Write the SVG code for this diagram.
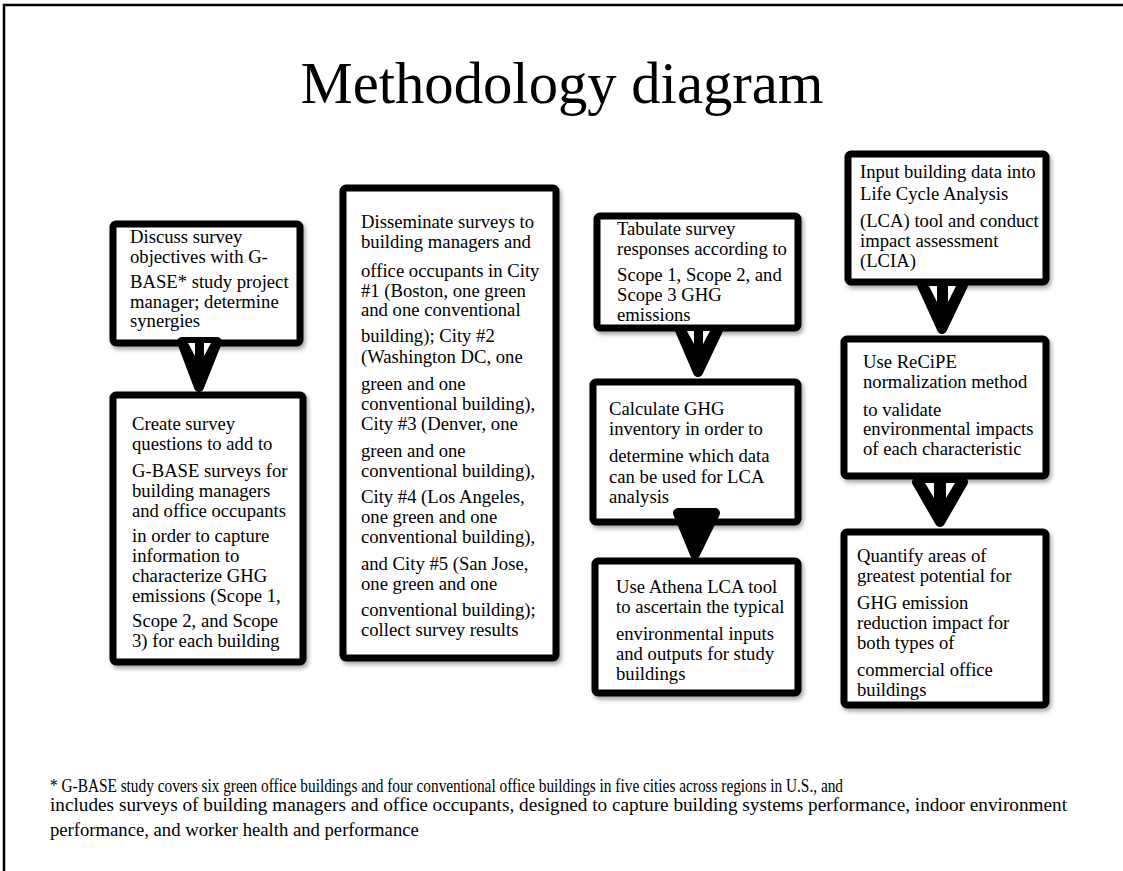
<svg xmlns="http://www.w3.org/2000/svg" width="1123" height="871" viewBox="0 0 1123 871">
<defs>
<style>
.frame{stroke:#000;stroke-width:2.5;fill:none}
.box{fill:#fff;stroke:#000;stroke-width:7;filter:url(#sh)}
.t{font-family:"Liberation Serif","Times New Roman",serif;font-size:18.67px;fill:#000}
.title{font-family:"Liberation Serif","Times New Roman",serif;font-size:58.67px;fill:#000}
.arr{fill:#000;stroke:#000;stroke-width:10;stroke-linejoin:round}
.notch{fill:#fff}
</style>
<filter id="sh" x="-10%" y="-10%" width="130%" height="130%">
<feDropShadow dx="2" dy="3" stdDeviation="2" flood-color="#000" flood-opacity="0.35"/>
</filter>
</defs>
<rect width="1123" height="871" fill="#fff"/>
<path class="frame" d="M1123,5 H4 V871"/>
<text class="title" x="562" y="103" text-anchor="middle">Methodology diagram</text>

<g id="node1">
<rect class="box" x="113" y="224" width="187" height="119" rx="3"/>
<text class="t"><tspan x="130" y="243">Discuss survey</tspan><tspan x="130" y="263">objectives with G-</tspan><tspan x="130" y="288">BASE* study project</tspan><tspan x="130" y="308">manager; determine</tspan><tspan x="130" y="327">synergies</tspan></text>
</g>
<g id="node2">
<rect class="box" x="113" y="395" width="190" height="267" rx="3"/>
<text class="t"><tspan x="132" y="430">Create survey</tspan><tspan x="132" y="450">questions to add to</tspan><tspan x="132" y="477">G-BASE surveys for</tspan><tspan x="132" y="497">building managers</tspan><tspan x="132" y="517">and office occupants</tspan><tspan x="132" y="542">in order to capture</tspan><tspan x="132" y="562">information to</tspan><tspan x="132" y="582">characterize GHG</tspan><tspan x="132" y="602">emissions (Scope 1,</tspan><tspan x="132" y="627">Scope 2, and Scope</tspan><tspan x="132" y="647">3) for each building</tspan></text>
</g>
<g id="node3">
<rect class="box" x="343" y="188" width="213" height="470" rx="3"/>
<text class="t"><tspan x="361" y="228">Disseminate surveys to</tspan><tspan x="361" y="248">building managers and</tspan><tspan x="361" y="277">office occupants in City</tspan><tspan x="361" y="297">#1 (Boston, one green</tspan><tspan x="361" y="316">and one conventional</tspan><tspan x="361" y="342">building); City #2</tspan><tspan x="361" y="363">(Washington DC, one</tspan><tspan x="361" y="390">green and one</tspan><tspan x="361" y="410">conventional building),</tspan><tspan x="361" y="430">City #3 (Denver, one</tspan><tspan x="361" y="457">green and one</tspan><tspan x="361" y="477">conventional building),</tspan><tspan x="361" y="503">City #4 (Los Angeles,</tspan><tspan x="361" y="523">one green and one</tspan><tspan x="361" y="543">conventional building),</tspan><tspan x="361" y="570">and City #5 (San Jose,</tspan><tspan x="361" y="590">one green and one</tspan><tspan x="361" y="616">conventional building);</tspan><tspan x="361" y="636">collect survey results</tspan></text>
</g>
<g id="node4">
<rect class="box" x="597" y="216" width="201" height="112" rx="3"/>
<text class="t"><tspan x="617" y="235">Tabulate survey</tspan><tspan x="617" y="255">responses according to</tspan><tspan x="617" y="281">Scope 1, Scope 2, and</tspan><tspan x="617" y="301">Scope 3 GHG</tspan><tspan x="617" y="321">emissions</tspan></text>
</g>
<g id="node5">
<rect class="box" x="593" y="382" width="205" height="140" rx="3"/>
<text class="t"><tspan x="609" y="415">Calculate GHG</tspan><tspan x="609" y="435">inventory in order to</tspan><tspan x="609" y="462">determine which data</tspan><tspan x="609" y="483">can be used for LCA</tspan><tspan x="609" y="503">analysis</tspan></text>
</g>
<g id="node6">
<rect class="box" x="595" y="561" width="203" height="132" rx="3"/>
<text class="t"><tspan x="616" y="593">Use Athena LCA tool</tspan><tspan x="616" y="613">to ascertain the typical</tspan><tspan x="616" y="640">environmental inputs</tspan><tspan x="616" y="660">and outputs for study</tspan><tspan x="616" y="680">buildings</tspan></text>
</g>
<g id="node7">
<rect class="box" x="848" y="154" width="198" height="128" rx="3"/>
<text class="t"><tspan x="860" y="178">Input building data into</tspan><tspan x="860" y="200">Life Cycle Analysis</tspan><tspan x="860" y="227">(LCA) tool and conduct</tspan><tspan x="860" y="247">impact assessment</tspan><tspan x="860" y="267">(LCIA)</tspan></text>
</g>
<g id="node8">
<rect class="box" x="844" y="339" width="202" height="137" rx="3"/>
<text class="t"><tspan x="863" y="368">Use ReCiPE</tspan><tspan x="863" y="388">normalization method</tspan><tspan x="863" y="416">to validate</tspan><tspan x="863" y="435">environmental impacts</tspan><tspan x="863" y="455">of each characteristic</tspan></text>
</g>
<g id="node9">
<rect class="box" x="844" y="532" width="202" height="173" rx="3"/>
<text class="t"><tspan x="857" y="562">Quantify areas of</tspan><tspan x="857" y="582">greatest potential for</tspan><tspan x="857" y="609">GHG emission</tspan><tspan x="857" y="629">reduction impact for</tspan><tspan x="857" y="649">both types of</tspan><tspan x="857" y="676">commercial office</tspan><tspan x="857" y="696">buildings</tspan></text>
</g>

<g id="connectors">
<polygon class="arr" points="182,342 217,342 199,387"/>
<polygon class="notch" points="188,343 195,343 195,356"/>
<polygon class="notch" points="204,343 211,343 204,356"/>

<polygon class="arr" points="680,330 718,330 698,372"/>
<polygon class="notch" points="687,331 694,331 694,344"/>
<polygon class="notch" points="703,331 710,331 703,344"/>

<polygon class="arr" points="678,513 715,513 695,554"/>

<polygon class="arr" points="922,285 963,285 942,329"/>
<polygon class="notch" points="929,286 937,286 937,302"/>
<polygon class="notch" points="948,286 956,286 948,302"/>

<polygon class="arr" points="917,482 963,482 940,522"/>
<polygon class="notch" points="925,483 934,483 934,498"/>
<polygon class="notch" points="946,483 955,483 946,498"/>
</g>

<g id="footnote">
<text class="t"><tspan x="50" y="792" textLength="793" lengthAdjust="spacingAndGlyphs">* G-BASE study covers six green office buildings and four conventional office buildings in five cities across regions in U.S., and</tspan></text>
<text class="t"><tspan x="50" y="811" textLength="1017" lengthAdjust="spacingAndGlyphs">includes surveys of building managers and office occupants, designed to capture building systems performance, indoor environment</tspan></text>
<text class="t"><tspan x="50" y="836">performance, and worker health and performance</tspan></text>
</g>
</svg>
